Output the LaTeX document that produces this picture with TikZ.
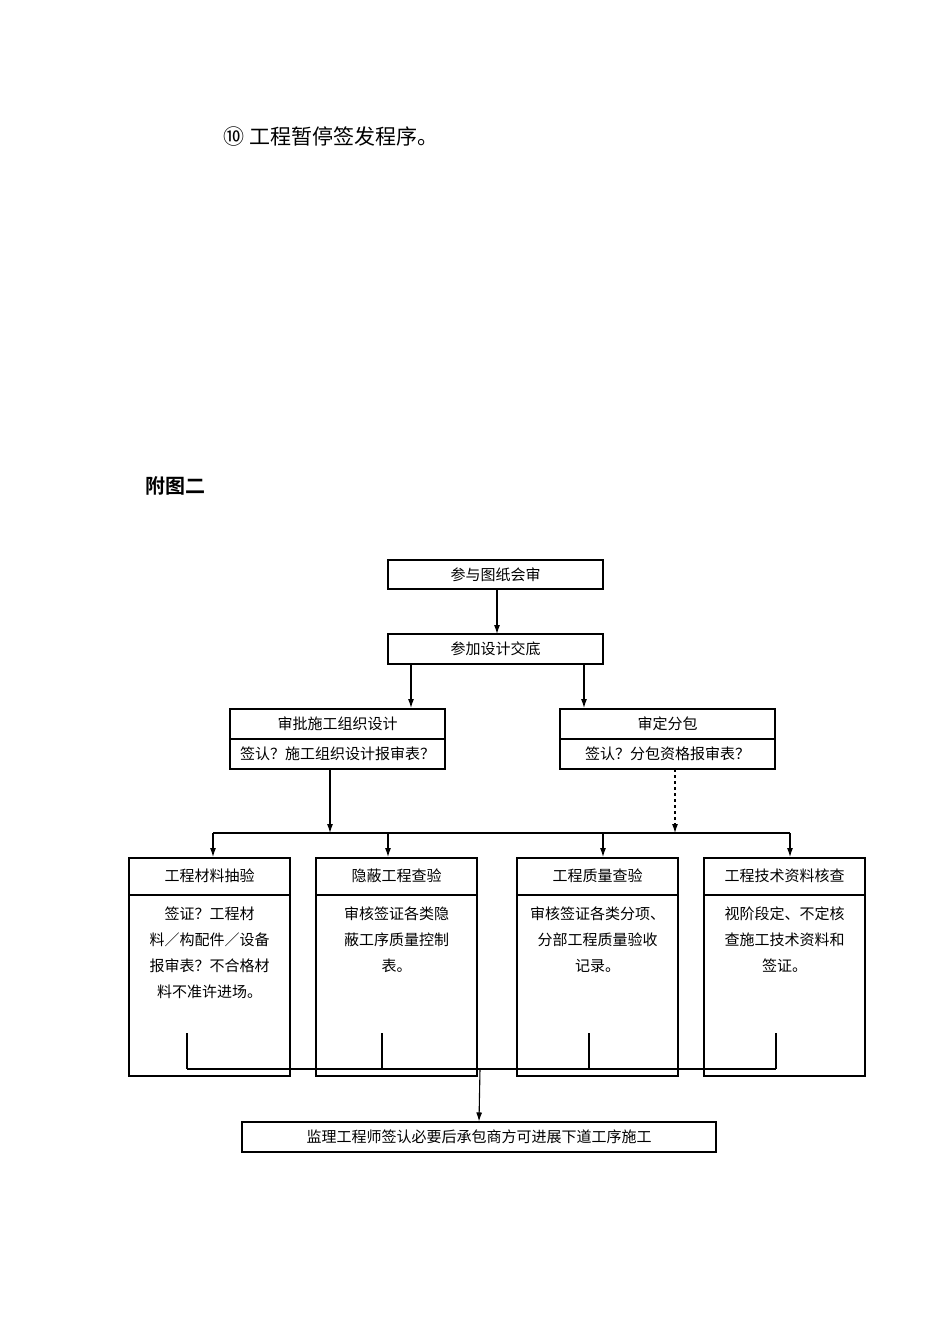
\documentclass[tikz,border=0pt]{standalone}
\usepackage{fontspec}
\newfontfamily\cjk{Noto Sans CJK SC}
\newfontfamily\cjkb{Noto Sans CJK SC Bold}
\begin{document}
\begin{tikzpicture}[x=1pt,y=-1pt,line width=1.1pt,
  bx/.style={draw,rectangle,inner sep=0pt,font=\cjk\fontsize{15}{18}\selectfont},
  tx/.style={font=\cjk\fontsize{15}{26}\selectfont,align=center,text width=145pt,anchor=north},
  ar/.style={-{Latex[length=9pt,width=6pt]}},
]
\usetikzlibrary{arrows.meta}
\useasboundingbox (0,0) rectangle (950,1344);
\node[anchor=west,font=\cjk\fontsize{21}{24}\selectfont] (h1) at (220,137) {⑩ 工程暂停签发程序。};
\node[anchor=west,font=\cjkb\fontsize{20}{24}\selectfont] (h2) at (142,486) {附图二};
\node[bx,minimum width=215pt,minimum height=29pt] (a) at (495.5,574.5) {参与图纸会审};
\node[bx,minimum width=215pt,minimum height=30pt] (b) at (495.5,649) {参加设计交底};
\draw[ar] (497,589) -- (497,634);
% left / right boxes
\draw (230,709) rectangle (445,769); \draw (230,739) -- (445,739);
\node[font=\cjk\fontsize{15}{18}\selectfont] (l1) at (337.5,724) {审批施工组织设计};
\node[font=\cjk\fontsize{15}{18}\selectfont] (l2) at (337.5,754) {签认？施工组织设计报审表？};
\draw (560,709) rectangle (775,769); \draw (560,739) -- (775,739);
\node[font=\cjk\fontsize{15}{18}\selectfont] (r1) at (667.5,724) {审定分包};
\node[font=\cjk\fontsize{15}{18}\selectfont] (r2) at (667.5,754) {签认？分包资格报审表？};
\draw[ar] (411,664) -- (411,708);
\draw[ar] (584,664) -- (584,708);
\draw[ar] (330,769) -- (330,833);
\draw[ar,dashed] (675,769) -- (675,833);
\draw (213,833) -- (790,833);
\foreach \x in {213,388,603,790} \draw[ar] (\x,833) -- (\x,857);
% four boxes
\foreach \x/\t/\d in {129/工程材料抽验/{签证？工程材\\料／构配件／设备\\报审表？不合格材\\料不准许进场。},
  316/隐蔽工程查验/{审核签证各类隐\\蔽工序质量控制\\表。},
  517/工程质量查验/{审核签证各类分项、\\分部工程质量验收\\记录。},
  704/工程技术资料核查/{视阶段定、不定核\\查施工技术资料和\\签证。}}{
  \draw (\x,858) rectangle ({\x+161},1076);
  \draw (\x,895) -- ({\x+161},895);
  \node[font=\cjk\fontsize{15}{18}\selectfont] at ({\x+80.5},876) {\t};
  \node[tx] at ({\x+80.5},903) {\d};
}
\draw (187,1069) -- (776,1069);
\foreach \x in {187,382,589,776} \draw (\x,1033) -- (\x,1069);
\node[bx,minimum width=474pt,minimum height=30pt] (c) at (479,1137) {监理工程师签认必要后承包商方可进展下道工序施工};
\draw[ar] (480,1069) -- (c.north);
\end{tikzpicture}
\end{document}
